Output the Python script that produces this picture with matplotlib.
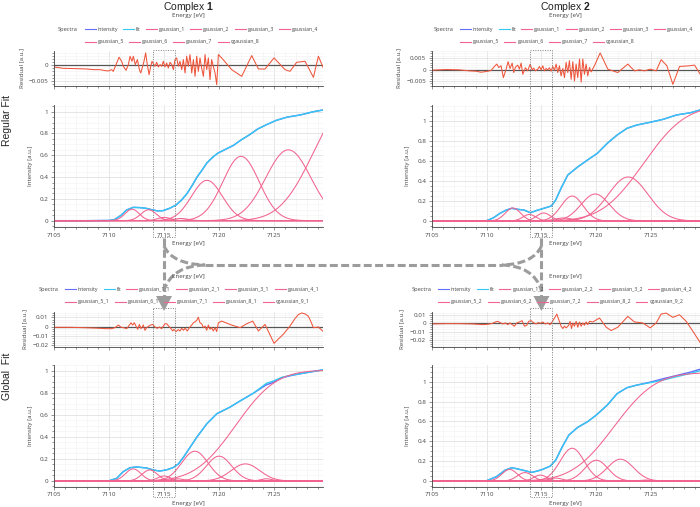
import math
import numpy as np
import matplotlib
matplotlib.use("Agg")
import matplotlib.pyplot as plt
from matplotlib.path import Path
from matplotlib.patches import PathPatch, Polygon, Rectangle
from matplotlib.ticker import MultipleLocator, FuncFormatter

plt.rcParams['font.family'] = ['Open Sans', 'DejaVu Sans']
plt.rcParams['mathtext.fontset'] = 'custom'
plt.rcParams['mathtext.rm'] = 'Liberation Sans'
plt.rcParams['mathtext.bf'] = 'Liberation Sans:bold'

# ---------------- data ----------------
labels_top = ['gaussian_1', 'gaussian_2', 'gaussian_3', 'gaussian_4',
              'gaussian_5', 'gaussian_6', 'gaussian_7', 'cgaussian_8']
labels_bl = ['gaussian_1_1', 'gaussian_2_1', 'gaussian_3_1', 'gaussian_4_1', 'gaussian_5_1',
             'gaussian_6_1', 'gaussian_7_1', 'gaussian_8_1', 'cgaussian_9_1']
labels_br = ['gaussian_1_2', 'gaussian_2_2', 'gaussian_3_2', 'gaussian_4_2', 'gaussian_5_2',
             'gaussian_6_2', 'gaussian_7_2', 'gaussian_8_2', 'cgaussian_9_2']
xticks = [7105, 7110, 7115, 7120, 7125]

# fit curves (cyan) and measured intensity (blue)
fit_e_tl = [7105, 7108, 7110, 7110.5, 7111.1, 7111.6, 7112.2, 7112.8, 7113.4, 7113.9, 7114.4,
            7114.9, 7115.5, 7116.1, 7116.6, 7117.1, 7117.6, 7118.0, 7118.5, 7118.9, 7119.4,
            7119.9, 7120.6, 7121.3, 7122.0, 7122.8, 7123.5, 7124.3, 7125.2, 7126.2, 7127.4,
            7128.6, 7129.45]
fit_tl = [0, 0, 0.002, 0.01, 0.05, 0.098, 0.122, 0.12, 0.113, 0.1, 0.09, 0.092, 0.113, 0.144,
          0.19, 0.25, 0.33, 0.40, 0.47, 0.53, 0.58, 0.62, 0.655, 0.69, 0.74, 0.79, 0.84, 0.88,
          0.92, 0.95, 0.97, 1.0, 1.015]
int_tl = [0, 0, 0.002, 0.01, 0.05, 0.098, 0.122, 0.12, 0.113, 0.1, 0.09, 0.092, 0.113, 0.144,
          0.19, 0.25, 0.33, 0.40, 0.47, 0.53, 0.58, 0.62, 0.655, 0.69, 0.74, 0.79, 0.84, 0.88,
          0.92, 0.95, 0.97, 1.0, 1.015]

fit_e_tr = [7105, 7108, 7110, 7110.6, 7111.2, 7111.8, 7112.3, 7112.8, 7113.4, 7114.0, 7114.5,
            7115.1, 7115.9, 7116.3, 7116.8, 7117.4, 7118.3, 7119.2, 7120.1, 7121.0, 7121.9,
            7122.8, 7123.7, 7124.9, 7126.1, 7127.3, 7128.6, 7129.45]
fit_tr = [0, 0, 0.003, 0.03, 0.075, 0.11, 0.127, 0.117, 0.11, 0.083, 0.103, 0.123, 0.15, 0.21,
          0.33, 0.46, 0.54, 0.61, 0.677, 0.777, 0.86, 0.927, 0.96, 0.987, 1.017, 1.06, 1.083, 1.11]
int_tr = [0, 0, 0.003, 0.03, 0.075, 0.11, 0.127, 0.117, 0.11, 0.083, 0.103, 0.123, 0.15, 0.21,
          0.33, 0.46, 0.54, 0.61, 0.677, 0.777, 0.86, 0.927, 0.96, 0.987, 1.017, 1.06, 1.083, 1.11]

fit_e_bl = [7105, 7108, 7110, 7110.7, 7111.3, 7111.9, 7112.5, 7113.4, 7114.0, 7114.6, 7115.2,
            7115.8, 7116.3, 7116.8, 7117.4, 7118.0, 7118.9, 7119.8, 7121.0, 7121.9, 7123.1,
            7124.3, 7124.9, 7125.7, 7126.6, 7127.8, 7129.45]
fit_bl = [0, 0, 0.002, 0.024, 0.085, 0.12, 0.127, 0.118, 0.1, 0.09, 0.1, 0.12, 0.154, 0.22,
          0.31, 0.40, 0.52, 0.61, 0.67, 0.725, 0.795, 0.885, 0.905, 0.94, 0.96, 0.98, 1.008]
int_bl = [0, 0, 0.002, 0.024, 0.085, 0.12, 0.127, 0.118, 0.1, 0.09, 0.1, 0.12, 0.154, 0.22,
          0.31, 0.40, 0.52, 0.61, 0.67, 0.725, 0.795, 0.872, 0.893, 0.935, 0.958, 0.98, 1.008]

fit_e_br = [7105, 7108, 7110, 7110.9, 7111.7, 7112.3, 7112.9, 7113.5, 7114.1, 7114.6, 7115.1,
            7115.8, 7116.3, 7116.9, 7117.5, 7118.3, 7119.2, 7120.0, 7121.0, 7121.9, 7122.8,
            7123.7, 7124.9, 7126.1, 7127.3, 7128.6, 7129.45]
fit_br = [0, 0, 0.003, 0.044, 0.11, 0.134, 0.12, 0.104, 0.087, 0.1, 0.117, 0.15, 0.21, 0.345,
          0.463, 0.54, 0.597, 0.664, 0.765, 0.88, 0.94, 0.966, 0.99, 1.017, 1.05, 1.084, 1.11]
int_br = [0, 0, 0.003, 0.044, 0.11, 0.134, 0.12, 0.104, 0.087, 0.1, 0.117, 0.15, 0.21, 0.345,
          0.463, 0.54, 0.597, 0.664, 0.765, 0.88, 0.94, 0.966, 0.995, 1.03, 1.062, 1.097, 1.125]

# fitted components: gaussian centre [eV], height, width (sigma); step = cumulative gaussian
g_center_tl = [7112.1, 7113.6, 7115.0, 7116.5, 7118.9, 7122.0, 7126.3]
g_height_tl = [0.105, 0.10, 0.03, 0.02, 0.37, 0.59, 0.65]
g_width_tl = [0.65, 0.7, 0.6, 0.7, 1.4, 1.65, 2.05]
step_tl = [7128.7, 1.3, 2.5]

g_center_tr = [7112.4, 7113.9, 7115.2, 7117.0, 7117.8, 7119.9, 7122.9]
g_height_tr = [0.13, 0.065, 0.08, 0.03, 0.25, 0.27, 0.44]
g_width_tr = [0.7, 0.6, 0.65, 0.8, 1.0, 1.3, 1.8]
step_tr = [7124.3, 1.15, 3.0]

g_center_bl = [7112.2, 7113.7, 7115.0, 7116.2, 7117.8, 7120.0, 7122.4, 7124.3]
g_height_bl = [0.11, 0.10, 0.045, 0.02, 0.27, 0.225, 0.155, 0.02]
g_width_bl = [0.7, 0.7, 0.6, 0.6, 1.2, 1.15, 1.3, 0.5]
step_bl = [7121.5, 1.005, 2.9]

g_center_br = [7112.1, 7113.5, 7114.9, 7116.3, 7117.8, 7120.0, 7122.2, 7124.5]
g_height_br = [0.117, 0.085, 0.06, 0.03, 0.33, 0.21, 0.22, 0.01]
g_width_br = [0.7, 0.7, 0.6, 0.6, 1.1, 1.05, 1.2, 0.5]
step_br = [7121.6, 1.09, 3.0]

# residuals, values in units of 1e-3 a.u.
res_e_tl = [7105.0, 7105.85, 7107.06, 7107.97, 7108.58, 7109.18, 7109.48, 7109.94, 7110.24, 7110.39,
            7110.70, 7110.91, 7111.15, 7111.30, 7111.55, 7111.76, 7111.91, 7112.09, 7112.21, 7112.39,
            7112.58, 7112.76, 7112.88, 7113.06, 7113.18, 7113.33, 7113.48, 7113.64, 7113.79, 7113.91,
            7114.03, 7114.18, 7114.33, 7114.48, 7114.64, 7114.79, 7114.94, 7115.09, 7115.24, 7115.39,
            7115.55, 7115.70, 7115.85, 7116.0, 7116.15, 7116.30, 7116.45, 7116.61, 7116.76, 7116.91,
            7117.06, 7117.21, 7117.36, 7117.52, 7117.67, 7117.82, 7117.97, 7118.12, 7118.27, 7118.42,
            7118.58, 7118.73, 7118.88, 7119.03, 7119.18, 7119.33, 7119.48, 7119.64, 7119.79, 7119.94,
            7120.24, 7121.15, 7122.06, 7122.97, 7123.58, 7124.18, 7125.0, 7126.0, 7126.45, 7127.06,
            7127.82, 7128.58, 7129.03, 7129.48]
res_tl = [-0.54, -0.98, -1.09, -1.2, -1.41, -1.41, -1.63, -1.85, -1.41, -1.96,
          0.76, 2.61, 1.3, -0.33, -1.63, 0.22, 2.93, 1.3, 2.93, 0.22,
          1.85, -1.41, -2.5, -0.33, 1.3, 4.02, 0.22, -3.04, -0.33, 1.3,
          0.54, -0.33, 0.98, -0.54, 0.22, -0.33, 1.3, -0.54, 0.76, -0.87,
          0.98, 0.22, -1.41, 1.85, 2.39, -0.33, 1.3, -1.41, 1.85, -2.5,
          2.93, -0.33, 3.48, -2.5, 1.85, -3.59, 2.93, -1.96, 2.39, -0.87,
          -3.59, 3.48, -1.41, 2.39, -4.67, 1.85, -0.33, -2.5, -6.3, 3.48,
          2.39, -1.41, -3.59, 3.15, -1.2, -1.2, 2.39, -1.41, -1.96, 0.98,
          1.3, -3.91, 2.93, -0.87]

res_e_tr = [7105.0, 7106.31, 7107.52, 7108.43, 7109.04, 7109.50, 7109.95, 7110.41, 7110.71, 7110.93,
            7111.11, 7111.32, 7111.53, 7111.78, 7111.96, 7112.14, 7112.33, 7112.48, 7112.63, 7112.84,
            7112.99, 7113.15, 7113.30, 7113.54, 7113.75, 7113.97, 7114.15, 7114.30, 7114.45, 7114.67,
            7114.82, 7114.97, 7115.12, 7115.27, 7115.43, 7115.58, 7115.73, 7115.88, 7116.03, 7116.19,
            7116.34, 7116.49, 7116.64, 7116.79, 7116.95, 7117.10, 7117.25, 7117.40, 7117.55, 7117.71,
            7117.86, 7118.01, 7118.16, 7118.31, 7118.47, 7118.62, 7118.77, 7118.92, 7119.07, 7119.22,
            7119.38, 7119.53, 7119.83, 7120.35, 7121.05, 7121.96, 7122.87, 7123.48, 7123.94, 7124.39,
            7124.91, 7125.46, 7125.91, 7126.43, 7126.98, 7127.58, 7128.50, 7128.95, 7129.47]
res_tr = [-0.29, 0, -0.15, -0.59, -0.74, -1.18, -0.88, -0.44, 1.32, 2.35,
          0.88, 1.62, -3.53, 0.15, 3.38, 0.44, 2.79, -1.32, 1.03, 1.91,
          0.15, 2.79, -2.06, 0.74, -0.59, 2.35, -0.15, 0.59, -0.59, 0.15,
          1.32, -0.15, 1.62, -0.59, 0.44, -0.15, 0.74, -0.74, 1.32, -0.29,
          2.35, -1.32, 1.62, -2.79, 0.44, -3.53, 3.09, -1.32, 3.82, -4.26,
          3.38, -5.0, 2.35, -3.53, 4.56, -5.44, 4.56, -2.06, 2.35, -2.79,
          0.88, -1.03, 1.62, 7.2, 0.15, -1.32, 2.35, -0.59, -0.15, -0.59,
          0.15, -0.59, 4.26, 1.62, -6.47, 1.32, 1.62, 1.91, -2.06]

res_e_bl = [7105.0, 7106.45, 7107.67, 7108.58, 7109.18, 7109.79, 7110.24, 7110.55, 7110.85, 7111.06,
            7111.30, 7111.61, 7111.85, 7112.0, 7112.15, 7112.30, 7112.45, 7112.61, 7112.76, 7112.91,
            7113.12, 7113.27, 7113.42, 7113.61, 7113.79, 7113.97, 7114.18, 7114.39, 7114.58, 7114.79,
            7114.94, 7115.09, 7115.24, 7115.42, 7115.61, 7115.79, 7115.91, 7116.09, 7116.30, 7116.45,
            7116.61, 7116.76, 7116.91, 7117.12, 7117.30, 7117.52, 7117.67, 7117.82, 7117.97, 7118.12,
            7118.27, 7118.42, 7118.58, 7118.73, 7118.88, 7119.03, 7119.18, 7119.33, 7119.48, 7119.64,
            7119.79, 7119.94, 7120.24, 7121.15, 7121.91, 7122.52, 7123.06, 7123.58, 7124.18, 7125.0,
            7125.39, 7125.85, 7126.45, 7126.91, 7127.21, 7127.52, 7127.82, 7128.12, 7128.33, 7128.58,
            7129.03, 7129.48]
res_bl = [-0.7, -0.7, -1.05, -1.4, -1.75, -2.1, -2.1, -1.05, 1.75, -0.35,
          -1.05, -2.1, 1.75, 4.2, 1.75, 4.2, 0.7, -2.8, 2.46, -2.1,
          1.75, -3.86, -1.05, 0.7, 1.75, 2.46, -0.35, -1.75, -0.35, -2.1,
          0.7, 3.16, 3.16, 0.7, -1.75, -4.56, -2.8, -5.26, -3.16, -4.56,
          -1.75, -3.86, -1.75, -4.56, -1.05, 1.75, 4.2, 5.26, 6.67, 10.18,
          4.2, 3.16, -1.05, 0.7, -3.86, 1.75, -2.8, -1.05, -4.56, -1.05,
          -5.26, 4.2, 5.97, 1.75, -1.05, 3.16, 5.97, -4.56, 2.46, -17.9,
          -13.3, -8.07, 0.7, 8.8, 13.0, 14.74, 13.7, 11.23, 6.0, -1.05,
          -0.35, -5.26]

res_e_br = [7105.0, 7106.31, 7107.52, 7108.74, 7109.65, 7110.11, 7110.56, 7110.81, 7111.02, 7111.23,
            7111.47, 7111.72, 7111.93, 7112.14, 7112.33, 7112.54, 7112.75, 7112.99, 7113.24, 7113.45,
            7113.66, 7113.84, 7114.06, 7114.27, 7114.51, 7114.70, 7114.91, 7115.12, 7115.33, 7115.58,
            7115.79, 7115.97, 7116.19, 7116.40, 7116.58, 7116.79, 7116.95, 7117.10, 7117.25, 7117.49,
            7117.61, 7117.74, 7117.86, 7118.01, 7118.16, 7118.31, 7118.47, 7118.62, 7118.77, 7118.92,
            7119.07, 7119.22, 7119.38, 7119.68, 7120.29, 7120.90, 7121.35, 7121.96, 7122.87, 7123.48,
            7124.24, 7124.91, 7125.46, 7125.91, 7126.37, 7126.98, 7127.58, 7128.19, 7128.80, 7129.47]
res_br = [-0.8, -0.4, -0.4, -0.8, -1.6, -1.2, 0, 1.6, 2.4, 0.8,
          -0.8, 0.4, -1.6, 0.4, -1.6, -3.6, 0.4, 1.6, 3.2, -3.6,
          -2.4, 2.4, 3.2, 0.8, -0.8, 0.8, 0, 1.6, -0.8, 0.4,
          -1.6, 1.6, 6.4, 11.2, 4.4, -3.6, -6.4, -3.6, -5.6, -2.4,
          2.4, -6.4, 0.4, -3.6, 2.4, -4.8, 1.6, -3.6, 0.4, -2.4,
          1.6, -1.6, 2.4, 1.6, 6.4, -4.8, -8.8, -4.8, 8.4, 1.6,
          0.4, -5.6, 0.4, 11.2, 12.4, 7.2, 10.4, 2.4, -9.6, -23.6]

# ---------------- styling ----------------
W, H = 700, 507
C_INT = '#636efa'
C_FIT = '#35c8f2'
C_G = '#f2638f'
C_RES = '#ef553b'
C_TXT = '#444444'
XLIM = (7105, 7129.45)

fig = plt.figure(figsize=(W / 100, H / 100), dpi=100)


def rect(x0, y0, x1, y1):
    return [x0 / W, 1 - y1 / H, (x1 - x0) / W, (y1 - y0) / H]


def fmt(v, pos):
    s = '%g' % round(v, 6)
    return s.replace('-', '\u2212')


def style(ax, ymaj, ymin, ylim, show_x):
    ax.set_xlim(*XLIM)
    ax.set_ylim(*ylim)
    ax.set_xticks(xticks)
    ax.xaxis.set_minor_locator(MultipleLocator(1))
    ax.yaxis.set_major_locator(MultipleLocator(ymaj))
    ax.yaxis.set_minor_locator(MultipleLocator(ymin))
    ax.yaxis.set_major_formatter(FuncFormatter(fmt))
    ax.grid(which='major', color='#dcdcdc', lw=0.5)
    ax.grid(which='minor', color='#f1f1f1', lw=0.4)
    ax.set_axisbelow(True)
    for s in ['top', 'right']:
        ax.spines[s].set_visible(False)
    for s in ['left', 'bottom']:
        ax.spines[s].set_color(C_TXT)
        ax.spines[s].set_linewidth(0.6)
    ax.tick_params(which='both', direction='out', color=C_TXT, width=0.4,
                   labelsize=4.5, labelcolor=C_TXT, pad=1.5)
    ax.tick_params(which='major', length=2.5)
    ax.tick_params(which='minor', length=1.5)
    ax.tick_params(axis='x', labelbottom=show_x)
    ax.set_facecolor('white')


def components(centers, heights, widths, step, x):
    out = []
    for c, h, w in zip(centers, heights, widths):
        out.append(h * np.exp(-0.5 * ((x - c) / w) ** 2))
    c, h, w = step
    out.append(np.array([h * 0.5 * (1 + math.erf((v - c) / (w * math.sqrt(2)))) for v in x]))
    return out


def panel(x0, x1, rows, res_e, res, fit_e, fit, inten, gc, gh, gw, step,
          ylim_i, ylim_r, rmaj, rmin, lab_res_x, lab_int_x):
    (ry0, ry1), (iy0, iy1) = rows
    ax_r = fig.add_axes(rect(x0, ry0, x1, ry1))
    ax_i = fig.add_axes(rect(x0, iy0, x1, iy1))
    ax_r.axhline(0, color='#555555', lw=0.9, zorder=1)
    ax_r.plot(res_e, np.array(res) * 1e-3, color=C_RES, lw=0.75, zorder=2)
    style(ax_r, rmaj, rmin, ylim_r, False)
    ax_r.set_ylabel('Residual [a.u.]', fontsize=4.4, color=C_TXT)
    ax_r.yaxis.set_label_coords((lab_res_x - x0) / (x1 - x0), 0.5)

    xs = np.linspace(XLIM[0], 7129.6, 600)
    ax_i.plot(fit_e, inten, color=C_INT, lw=1.0)
    ax_i.plot(fit_e, fit, color=C_FIT, lw=1.0)
    for comp in components(gc, gh, gw, step, xs):
        ax_i.plot(xs, comp, color=C_G, lw=0.75)
    style(ax_i, 0.2, 0.05, ylim_i, True)
    ax_i.xaxis.set_major_formatter(FuncFormatter(lambda v, p: '%d' % v))
    ax_i.set_ylabel('Intensity [a.u.]', fontsize=4.4, color=C_TXT)
    ax_i.yaxis.set_label_coords((lab_int_x - x0) / (x1 - x0), 0.5)
    return ax_r, ax_i


top_rows = ((51, 86), (105, 227))
bot_rows = ((311.7, 346.7), (365, 486.7))
LX0, LX1 = 54, 323
RX0, RX1 = 431.7, 700

ax_tl = panel(LX0, LX1, top_rows, res_e_tl, res_tl, fit_e_tl, fit_tl, int_tl,
              g_center_tl, g_height_tl, g_width_tl, step_tl,
              (-0.058, 1.061), (-0.00672, 0.00464), 0.005, 0.001, 24, 33)
ax_tr = panel(RX0, RX1, top_rows, res_e_tr, res_tr, fit_e_tr, fit_tr, int_tr,
              g_center_tr, g_height_tr, g_width_tr, step_tr,
              (-0.06, 1.16), (-0.00717, 0.00804), 0.005, 0.001, 401, 410)
ax_bl = panel(LX0, LX1, bot_rows, res_e_bl, res_bl, fit_e_bl, fit_bl, int_bl,
              g_center_bl, g_height_bl, g_width_bl, step_bl,
              (-0.052, 1.052), (-0.0215, 0.0161), 0.01, 0.0025, 27, 33)
ax_br = panel(RX0, RX1, bot_rows, res_e_br, res_br, fit_e_br, fit_br, int_br,
              g_center_br, g_height_br, g_width_br, step_br,
              (-0.057, 1.168), (-0.0285, 0.0141), 0.01, 0.0025, 404, 410)

# ---------------- overlay in pixel coordinates ----------------
ov = fig.add_axes([0, 0, 1, 1], zorder=10)
ov.set_xlim(0, W)
ov.set_ylim(H, 0)
ov.axis('off')
ov.patch.set_alpha(0)
renderer = fig.canvas.get_renderer()


def txt(x, y, s, size=4.5, **kw):
    return ov.text(x, y, s, fontsize=size, color=C_TXT, ha='center', va='center', **kw)


for cx in [(LX0 + LX1) / 2, (RX0 + RX1) / 2]:
    txt(cx, 16, 'Energy [eV]')
    txt(cx, 244, 'Energy [eV]')
    txt(cx, 276.5, 'Energy [eV]')
    txt(cx, 503, 'Energy [eV]')
ov.text((LX0 + LX1) / 2, 6.5, 'Complex $\\mathbf{1}$', fontsize=7.5, color='#222222',
        ha='center', va='center', family='Liberation Sans')
ov.text((RX0 + RX1) / 2, 6.5, 'Complex $\\mathbf{2}$', fontsize=7.5, color='#222222',
        ha='center', va='center', family='Liberation Sans')
ov.text(7, 120, 'Regular Fit', fontsize=7.5, color='#222222', rotation=90,
        ha='center', va='center', family='Liberation Sans')
ov.text(7, 376, 'Global  Fit', fontsize=7.5, color='#222222', rotation=90,
        ha='center', va='center', family='Liberation Sans')


def legend(x0, y1, y2, labels):
    ov.text(x0, y1, 'Spectra', fontsize=4.1, color=C_TXT, ha='left', va='center')
    entries = [('intensity', C_INT), ('fit', C_FIT)] + [(l, C_G) for l in labels]
    xs = x0 + 26.7
    x = xs
    for i, (lab, col) in enumerate(entries):
        if i == 6:
            x = xs
        y = y1 if i < 6 else y2
        ov.plot([x, x + 11], [y, y], color=col, lw=0.8)
        t = ov.text(x + 13, y, lab, fontsize=3.72, color=C_TXT, ha='left', va='center')
        x = x + 13 + t.get_window_extent(renderer).width + 5


legend(58, 29.3, 41.7, labels_top)
legend(433.3, 29.3, 41.7, labels_top)
legend(38.3, 289.3, 301.7, labels_bl)
legend(411.5, 289.3, 301.7, labels_br)

# dotted boxes around the pre-edge region 7114-7116 eV
box_lo, box_hi = 7114, 7116
mids = []
for ax_i in [ax_tl[1], ax_tr[1]]:
    xa = ax_i.transData.transform((box_lo, 0))[0]
    xb = ax_i.transData.transform((box_hi, 0))[0]
    mids.append((xa + xb) / 2)
    for (ya, yb) in [(50, 236.7), (308.3, 496.7)]:
        ov.add_patch(Rectangle((xa, ya), xb - xa, yb - ya, fill=False, ec='#808080',
                               lw=0.7, ls=(0, (1, 1.5))))

# dashed arrows linking regular and global fits
GR = '#9c9c9c'
DASH = (0, (2.6, 1.1))
LW = 2.2
ml, mr = mids
ov.plot([ml, ml], [238, 297], color=GR, lw=LW, ls=DASH)
ov.plot([mr, mr], [238, 297], color=GR, lw=LW, ls=DASH)
ov.plot([205, 502], [265, 265], color=GR, lw=LW, ls=DASH)
curves = [
    [(ml, 246), (ml + 8, 264), (205, 265)],
    [(205, 265), (ml + 8, 266), (ml, 290)],
    [(mr, 246), (mr - 8, 264), (502, 265)],
    [(502, 265), (mr - 8, 266), (mr, 290)],
]
for pts in curves:
    p = Path(pts, [Path.MOVETO, Path.CURVE3, Path.CURVE3])
    ov.add_patch(PathPatch(p, fill=False, ec=GR, lw=LW, ls=DASH))
for m in [ml, mr]:
    ov.add_patch(Polygon([(m - 8, 296), (m + 8, 296), (m, 311)], closed=True,
                         fc=GR, ec='none'))

fig.savefig('out.png', dpi=100)
